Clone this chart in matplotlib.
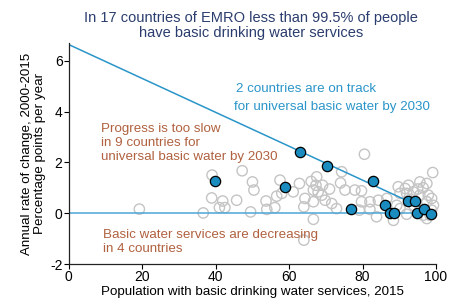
import numpy as np
import matplotlib
matplotlib.use("Agg")
import matplotlib.pyplot as plt

plt.rcParams['font.family'] = ['Liberation Sans', 'DejaVu Sans']
plt.rcParams['axes.unicode_minus'] = False

# --- dados ---
# países EMRO (<99.5%): cobertura 2015, taxa anual de mudança
emro_x = [39.8, 62.9, 58.9, 70.3, 82.9, 76.9, 86.1, 87.6, 88.6,
          92.3, 94.2, 94.7, 96.7, 98.6]
emro_y = [1.26, 2.40, 1.04, 1.85, 1.27, 0.15, 0.34, -0.01, 0.0,
          0.47, 0.47, 0.01, 0.15, -0.05]

# outros países (círculos cinzas)
outros_x = [19.2, 36.6, 39.0, 38.9, 41.9, 41.0, 42.5, 45.7, 47.2, 50.0,
            50.4, 49.5, 53.7, 53.9, 56.1, 56.6, 57.5, 58.0, 80.5, 62.8,
            61.1, 67.5, 67.3, 69.1, 66.6, 67.9, 68.9, 64.3, 64.0, 66.6,
            69.8, 71.6, 72.9, 66.6, 64.0, 74.3, 74.0, 75.2, 77.9, 79.7,
            79.7, 82.0, 79.1, 82.0, 83.8, 84.3, 88.4, 86.6, 89.7, 91.6,
            92.5, 90.2, 92.0, 93.8, 95.6, 97.5, 99.1, 95.6, 97.9, 98.8,
            97.5, 99.3, 98.8, 96.5, 92.0, 90.2, 97.5, 98.4, 89.3, 66.0,
            71.0, 95.0, 93.0, 96.5, 94.0]
outros_y = [0.16, 0.01, 1.50, 0.60, 0.48, 0.22, 0.22, 0.51, 1.67, 1.23,
            0.91, 0.05, 0.48, 0.15, 0.22, 0.67, 1.30, 0.78, 2.32, 1.17,
            0.84, 1.43, 1.10, 1.10, 0.91, 0.84, 0.71, 0.58, 0.25, 0.45,
            0.51, 0.38, 0.18, -0.24, -1.06, 1.63, 1.19, 0.91, 0.91, 0.88,
            0.45, 0.45, 0.12, 0.15, -0.14, 0.51, -0.28, 0.58, 1.04, 0.97,
            1.10, 0.78, 0.78, 0.84, 1.23, 1.17, 1.60, 0.71, 0.71, 0.58,
            0.45, 0.31, 0.12, -0.08, -0.04, 0.18, -0.21, -0.08, 0.31, 1.25,
            0.95, 0.95, 0.55, 1.00, 0.30]

meta = 99.5      # cobertura universal
anos = 15        # 2015 -> 2030

AZUL = '#2a95c9'
MARROM = '#b0613f'

fig = plt.figure(figsize=(4.53, 2.98), dpi=100)
ax = fig.add_axes([0.152, 0.114, 0.8105, 0.742])

# linha de "no caminho" e linha zero
xs = np.array([0, meta])
ax.plot(xs, (meta - xs) / anos, color=AZUL, lw=1.1, zorder=2)
ax.plot([0, meta], [0, 0], color='#4ba6d6', lw=1.1, zorder=2)

ax.scatter(outros_x, outros_y, s=55, facecolors='none', edgecolors='#c4c4c4',
           linewidths=1.0, zorder=1, clip_on=False)
ax.scatter(emro_x, emro_y, s=55, color='#1a8cc0', edgecolors='black',
           linewidths=0.9, zorder=3, clip_on=False)

ax.set_xlim(0, 100)
ax.set_ylim(-2, 6.7)
ax.set_xticks([0, 20, 40, 60, 80, 100])
ax.set_yticks([-2, 0, 2, 4, 6])
ax.tick_params(labelsize=10, length=3.5, width=0.8, pad=1)
for s in ['top', 'right']:
    ax.spines[s].set_visible(False)
for s in ['left', 'bottom']:
    ax.spines[s].set_linewidth(0.9)
    ax.spines[s].set_color('#222222')

ax.set_xlabel("Population with basic drinking water services, 2015",
              fontsize=9.6, labelpad=1)
ax.set_ylabel("Annual rate of change, 2000-2015\nPercentage points per year",
              fontsize=9.6, labelpad=3, linespacing=1.1)

fig.text(0.555, 0.962, "In 17 countries of EMRO less than 99.5% of people\n"
         "have basic drinking water services", ha='center', va='top',
         fontsize=10.5, color='#2b3d6e', linespacing=1.1)

ax.text(45.5, 4.88, "2 countries are on track", color=AZUL, fontsize=9.6,
        ha='left', va='center')
ax.text(98.4, 4.18, "for universal basic water by 2030", color=AZUL,
        fontsize=9.6, ha='right', va='center')

ax.text(8.8, 2.76, "Progress is too slow\nin 9 countries for\n"
        "universal basic water by 2030", color=MARROM, fontsize=9.6,
        ha='left', va='center', linespacing=1.2)
ax.text(9.2, -1.12, "Basic water services are decreasing\nin 4 countries",
        color=MARROM, fontsize=9.6, ha='left', va='center', linespacing=1.2)

fig.savefig("out.png", dpi=100)
